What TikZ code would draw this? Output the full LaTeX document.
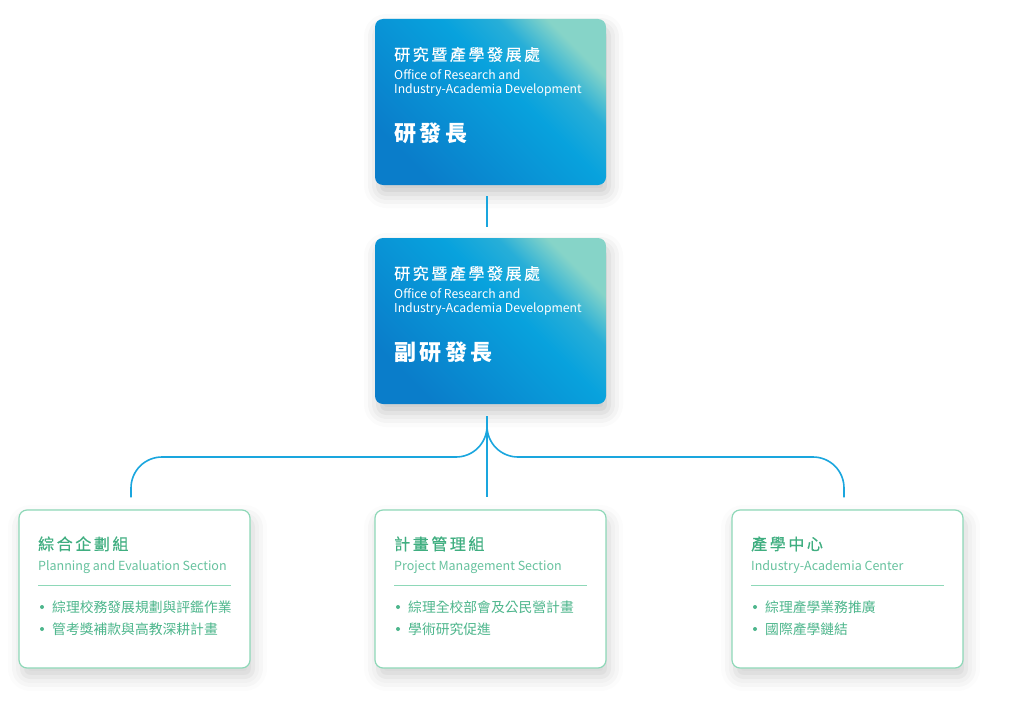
\documentclass[tikz,border=0pt]{standalone}
\usepackage{fontspec}
\setmainfont{Noto Sans CJK TC}
\newfontfamily\zhwide[LetterSpace=16]{Noto Sans CJK TC}
\newfontfamily\zhmed[LetterSpace=16,FakeBold=0.6]{Noto Sans CJK TC}
\usetikzlibrary{shadows.blur}
\definecolor{deepblue}{HTML}{0A7DCA}
\definecolor{midblue}{HTML}{08A2DD}
\definecolor{mint}{HTML}{86D4C8}
\definecolor{linkblue}{HTML}{1AA6DE}
\definecolor{greenline}{HTML}{8ED8B8}
\definecolor{greentitle}{HTML}{3FAE80}
\definecolor{greeneng}{HTML}{66C29E}
\definecolor{greentext}{HTML}{4DB68C}
\pgfdeclareverticalshading{officeshade}{100bp}{color(0bp)=(deepblue); color(25bp)=(deepblue); color(56bp)=(midblue); color(66bp)=(midblue!75!mint); color(75bp)=(mint); color(100bp)=(mint)}

\begin{document}
\begin{tikzpicture}[x=1pt, y=-1pt,
  office/.style={rectangle, rounded corners=8pt, minimum width=231pt, minimum height=166pt, inner sep=0pt,
    shading=officeshade, shading angle=-45,
    blur shadow={shadow xshift=3pt, shadow yshift=-9pt, shadow blur radius=14pt, shadow opacity=22}},
  section/.style={rectangle, rounded corners=8pt, minimum width=231pt, minimum height=158pt, inner sep=0pt,
    draw=greenline, line width=1.2pt, fill=white,
    blur shadow={shadow xshift=3pt, shadow yshift=-9pt, shadow blur radius=14pt, shadow opacity=18}},
  link/.style={draw=linkblue, line width=1.6pt},
  txt/.style={anchor=base west, inner sep=0pt},
  zhhead/.style={txt, text=white, font=\zhmed\fontsize{16}{18}\selectfont},
  enhead/.style={txt, text=white, font=\fontsize{12.2}{14}\selectfont},
  rank/.style={txt, text=white, font=\zhwide\bfseries\fontsize{22}{24}\selectfont},
  sechead/.style={txt, text=greentitle, font=\zhmed\fontsize{16}{18}\selectfont},
  seceng/.style={txt, text=greeneng, font=\fontsize{12.5}{14}\selectfont},
  item/.style={txt, text=greentext, font=\fontsize{13.8}{15}\selectfont}]
\useasboundingbox (0,0) rectangle (1012,717);

% offices
\node[office] (top) at (490.5,102) {};
\node[zhhead] (top-zh) at (394,60.5) {研究暨產學發展處};
\node[enhead] (top-en1) at (394,79) {Office of Research and};
\node[enhead] (top-en2) at (394,93.5) {Industry-Academia Development};
\node[rank] (top-rank) at (394,141) {研發長};

\node[office] (vice) at (490.5,321) {};
\node[zhhead] (vice-zh) at (394,279.5) {研究暨產學發展處};
\node[enhead] (vice-en1) at (394,298) {Office of Research and};
\node[enhead] (vice-en2) at (394,312.5) {Industry-Academia Development};
\node[rank] (vice-rank) at (394,360) {副研發長};

% sections
\node[section] (plan) at (134.5,589) {};
\node[sechead] (plan-zh) at (38,550) {綜合企劃組};
\node[seceng] (plan-en) at (38,570) {Planning and Evaluation Section};
\draw[greenline, line width=0.8pt] (38,585) -- (231,585);
\fill[greentext] (42,607) circle (2pt);
\node[item] (plan-a) at (52,612) {綜理校務發展規劃與評鑑作業};
\fill[greentext] (42,629) circle (2pt);
\node[item] (plan-b) at (52,634) {管考獎補款與高教深耕計畫};

\node[section] (proj) at (490.5,589) {};
\node[sechead] (proj-zh) at (394,550) {計畫管理組};
\node[seceng] (proj-en) at (394,570) {Project Management Section};
\draw[greenline, line width=0.8pt] (394,585) -- (587,585);
\fill[greentext] (398,607) circle (2pt);
\node[item] (proj-a) at (408,612) {綜理全校部會及公民營計畫};
\fill[greentext] (398,629) circle (2pt);
\node[item] (proj-b) at (408,634) {學術研究促進};

\node[section] (ind) at (847.5,589) {};
\node[sechead] (ind-zh) at (751,550) {產學中心};
\node[seceng] (ind-en) at (751,570) {Industry-Academia Center};
\draw[greenline, line width=0.8pt] (751,585) -- (944,585);
\fill[greentext] (755,607) circle (2pt);
\node[item] (ind-a) at (765,612) {綜理產學業務推廣};
\fill[greentext] (755,629) circle (2pt);
\node[item] (ind-b) at (765,634) {國際產學鏈結};

% connectors
\draw[link] ([xshift=-3.5pt,yshift=-11pt]top.south) -- ([xshift=-3.5pt,yshift=11pt]vice.north);
\coordinate (fork) at ([xshift=-3.5pt,yshift=-12pt]vice.south);
\coordinate (bar) at (0,457);
\draw[link] (fork) -- ([xshift=-3.5pt,yshift=12pt]proj.north);
\draw[link, rounded corners=31pt] (fork) -- (fork |- bar) -- ([xshift=-3.5pt]plan.north |- bar) -- ([xshift=-3.5pt,yshift=12pt]plan.north);
\draw[link, rounded corners=31pt] (fork) -- (fork |- bar) -- ([xshift=-3.5pt]ind.north |- bar) -- ([xshift=-3.5pt,yshift=12pt]ind.north);
\end{tikzpicture}
\end{document}
